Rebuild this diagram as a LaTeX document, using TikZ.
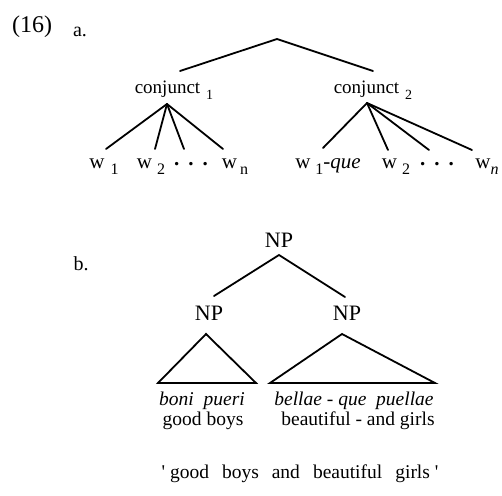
\documentclass[tikz,border=0pt]{standalone}
\usepackage{fontspec}
\setmainfont{Liberation Serif}
% lowered index after a category label or a word variable
\newcommand{\catidx}[1]{\hspace{6pt}\raisebox{-6pt}{\fontsize{14}{14}\selectfont #1}}
\newcommand{\wordidx}[2]{\hspace{#1}\raisebox{-6.5pt}{\fontsize{16}{16}\selectfont #2}}
\newcommand{\lowdots}{\raisebox{3pt}{\bfseries .\hspace{9pt}.\hspace{9pt}.}}
\newcommand{\wgap}{\hspace{13pt}}
\newcommand{\qgap}{\hspace{5pt}}
\begin{document}
\begin{tikzpicture}[x=1pt,y=-1pt,
  every node/.style={font=\fontsize{21}{24}\selectfont, inner sep=0pt},
  lbl/.style={anchor=base},
  cat/.style={anchor=base, font=\fontsize{19}{22}\selectfont},
  np/.style={font=\fontsize{22}{24}\selectfont},
  line/.style={anchor=base, font=\fontsize{19.5}{22}\selectfont},
  branch/.style={line width=1.8pt, line cap=round}]
\useasboundingbox (0,0) rectangle (502,495);

% example number and sub-labels
\node[font=\fontsize{24}{26}\selectfont] (exnum) at (32,27) {(16)};
\node[font=\fontsize{20}{22}\selectfont, anchor=base] (pa) at (80,37) {a.};
\node[font=\fontsize{20}{22}\selectfont, anchor=base] (pb) at (81,270) {b.};

% ---------- (16a) ----------
\coordinate (top) at (277,39);
\coordinate (c1up) at (180,71);
\coordinate (c2up) at (373,71);
\node[cat] (c1) at (174,93) {conjunct\catidx{1}};
\node[cat] (c2) at (373,93) {conjunct\catidx{2}};
\coordinate (c1dn) at (167,104);
\coordinate (c2dn) at (367,103);

\draw[branch] (c1up) -- (top) -- (c2up);

% daughters of conjunct 1
\node[lbl] (a1) at (104,168) {w\wordidx{6pt}{1}};
\node[lbl] (a2) at (151,168) {w\wordidx{5pt}{2}};
\node[lbl] (a3) at (191,168) {\lowdots};
\node[lbl] (a4) at (235,168) {w\wordidx{3pt}{n}};
\coordinate (a1up) at (106,149);
\coordinate (a2up) at (155,149);
\coordinate (a3up) at (184,149);
\coordinate (a4up) at (223,149);
\foreach \k in {1,2,3,4} \draw[branch] (c1dn) -- (a\k up);

% daughters of conjunct 2
\node[lbl] (b1) at (328,168) {w\wordidx{5pt}{1}\textit{-que}};
\node[lbl] (b2) at (396,168) {w\wordidx{5pt}{2}};
\node[lbl] (b3) at (437,168) {\lowdots};
\node[lbl] (b4) at (487,168) {w\wordidx{0pt}{\itshape n}};
\coordinate (b1up) at (323,148);
\coordinate (b2up) at (388,150);
\coordinate (b3up) at (429,150);
\coordinate (b4up) at (472,150);
\foreach \k in {1,2,3,4} \draw[branch] (c2dn) -- (b\k up);

% ---------- (16b) ----------
\node[np] (np) at (279,240) {NP};
\node[np] (npl) at (209,313) {NP};
\node[np] (npr) at (347,313) {NP};
\coordinate (npdn) at (279,255);
\coordinate (npl up) at (214,296);
\coordinate (npr up) at (345,297);
\draw[branch] (npl up) -- (npdn) -- (npr up);

% triangles over the two conjuncts
\coordinate (tl) at (206,334);
\coordinate (tla) at (158,383);
\coordinate (tlb) at (256,383);
\coordinate (tr) at (342,334);
\coordinate (tra) at (270,383);
\coordinate (trb) at (435,383);
\draw[branch, line join=miter] (tl) -- (tla) -- (tlb) -- cycle;
\draw[branch, line join=miter] (tr) -- (tra) -- (trb) -- cycle;

% Latin words with glosses
\node[line] (lat1) at (202,405) {\itshape boni\ \ pueri};
\node[line] (lat2) at (354,405) {\itshape bellae - que\ \ puellae};
\node[line] (gl1) at (203,425) {good boys};
\node[line] (gl2) at (358,425) {beautiful - and girls};

% free translation
\node[line] (trans) at (300,478) {\textquotesingle\qgap good\wgap boys\wgap and\wgap beautiful\wgap girls\qgap\textquotesingle};
\end{tikzpicture}
\end{document}
